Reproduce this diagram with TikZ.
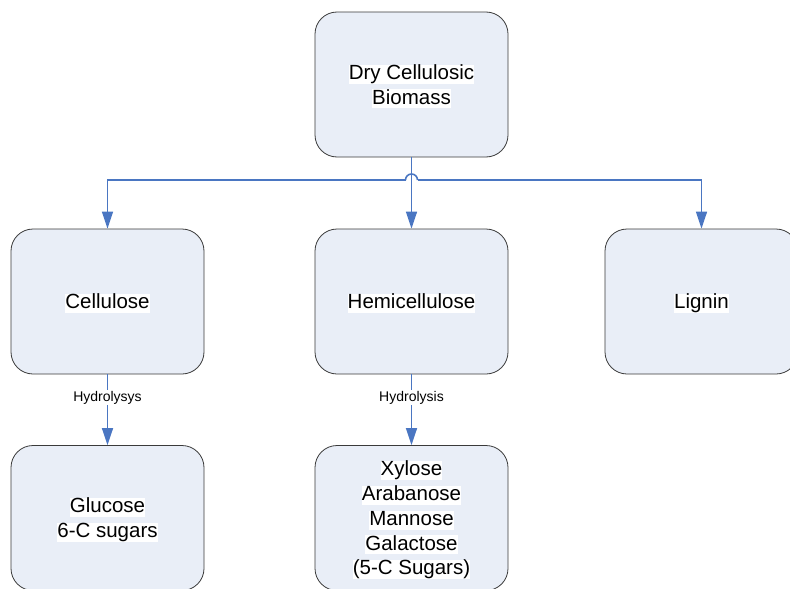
\documentclass[tikz,border=0pt]{standalone}
\usepackage{fontspec}
\setmainfont{Liberation Sans}
\usetikzlibrary{arrows.meta}
\definecolor{boxfill}{HTML}{E9EEF7}
\definecolor{boxline}{HTML}{3A3A3A}
\definecolor{conn}{HTML}{4A76C2}
\newcommand\hlt[1]{\raisebox{-2pt}[\height][\depth]{\setlength\fboxsep{0pt}\colorbox{white}{\rule[-0.21em]{0pt}{0.93em}#1}}}
\tikzset{
  stage/.style={draw=boxline, line width=0.8pt, fill=boxfill, rounded corners=22pt,
    minimum width=193pt, minimum height=145pt, inner sep=0pt, align=center,
    font=\fontsize{20.5}{24.8}\selectfont},
  wire/.style={draw=conn, line width=1.6pt},
  arr/.style={wire, -{Triangle[length=17pt,width=11pt]}},
  lbl/.style={fill=white, inner sep=1pt, font=\fontsize{14}{16}\selectfont}
}
\begin{document}
\begin{tikzpicture}[x=1pt,y=1pt]
\useasboundingbox (0,0) rectangle (790,-589);
\clip (0,0) rectangle (790,-589);
\node[stage] (top) at (411.5,-84.5) {\hlt{Dry Cellulosic}\\\hlt{Biomass}};
\node[stage] (cel) at (107.5,-301.5) {\hlt{Cellulose}};
\node[stage] (hem) at (411.5,-301.5) {\hlt{Hemicellulose}};
\node[stage] (lig) at (701.5,-301.5) {\hlt{Lignin}};
\node[stage] (glu) at (107.5,-518) {\hlt{Glucose}\\\hlt{6-C sugars}};
\node[stage] (xyl) at (411.5,-518) {\hlt{Xylose}\\\hlt{Arabanose}\\\hlt{Mannose}\\\hlt{Galactose}\\\hlt{(5-C Sugars)}};
\coordinate (hopL) at (405.5,-180);
\coordinate (hopR) at (417.5,-180);
\draw[arr] (top) -- (hem);
\draw[wire] (hopL) arc[start angle=180, end angle=0, radius=6pt];
\draw[arr] (hopL) -- (hopL -| cel.north) -- (cel);
\draw[arr] (hopR) -- (hopR -| lig.north) -- (lig);
\draw[arr] (cel) -- node[lbl, pos=0.33] {Hydrolysys} (glu);
\draw[arr] (hem) -- node[lbl, pos=0.33] {Hydrolysis} (xyl);
\end{tikzpicture}
\end{document}
